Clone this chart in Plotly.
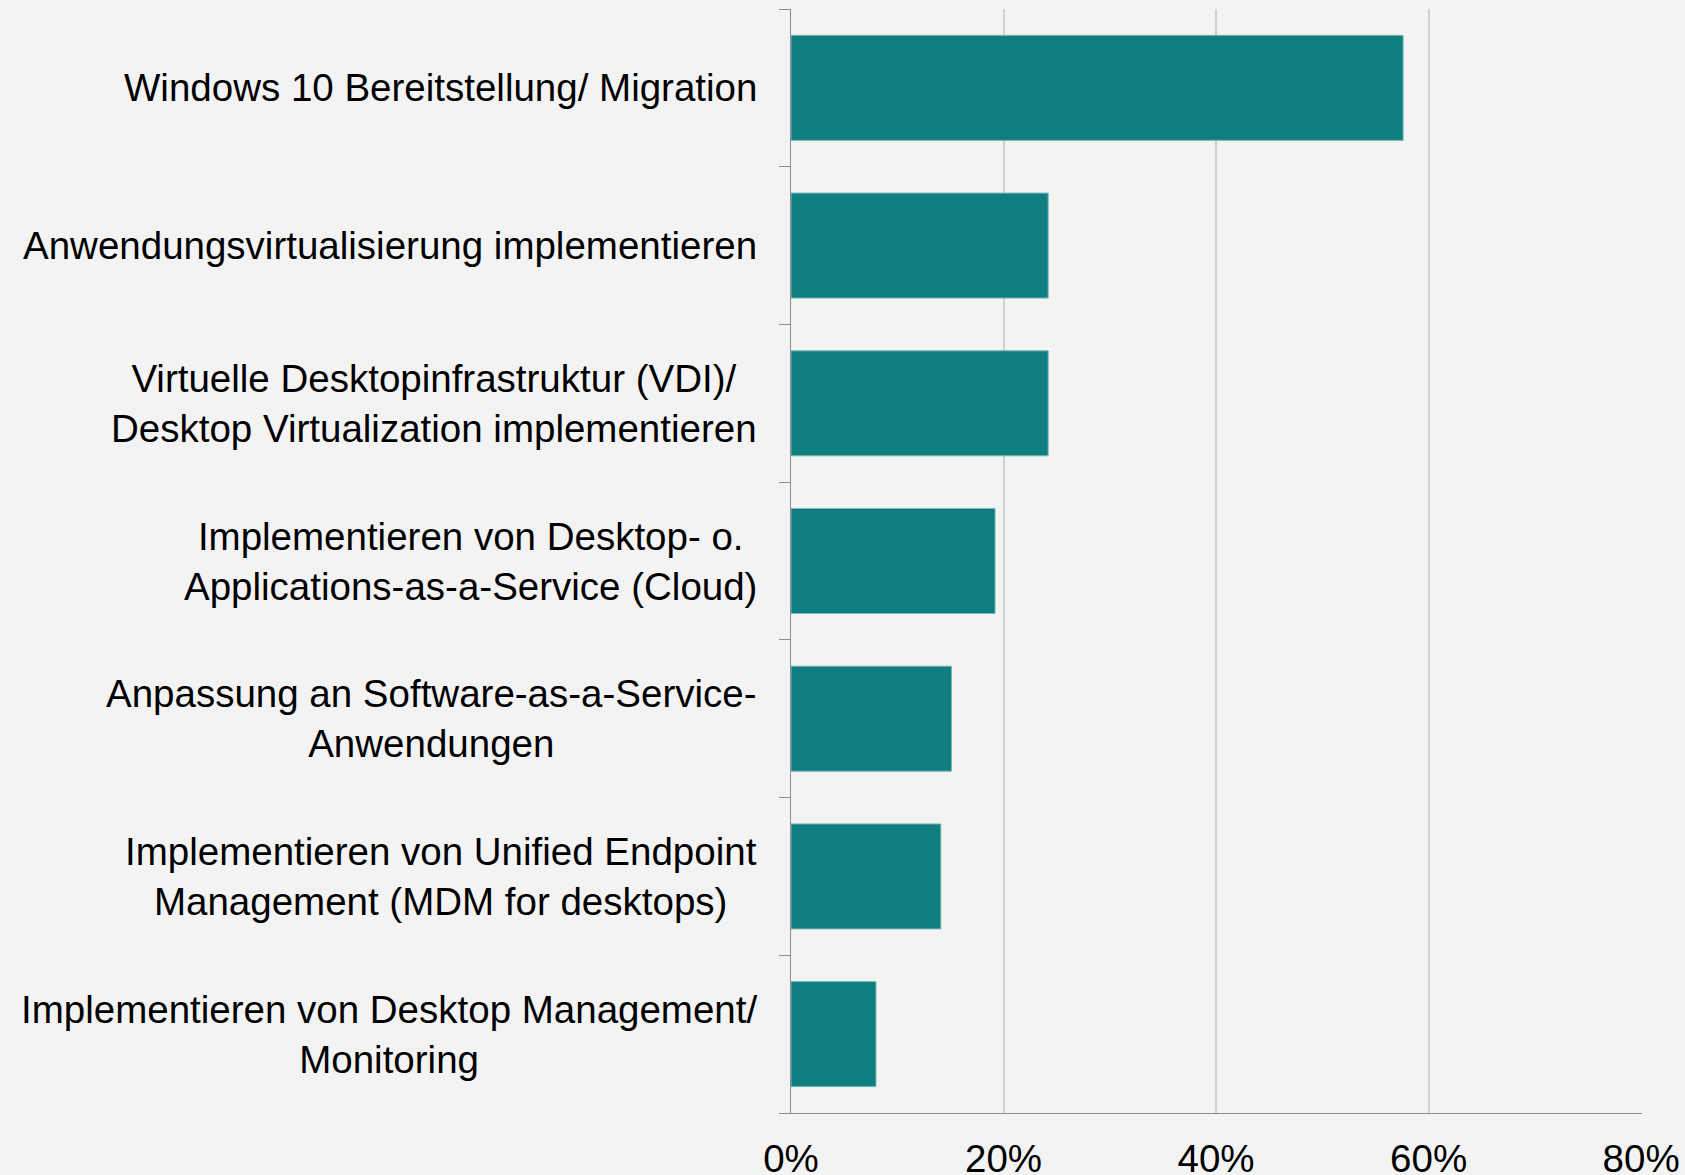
import plotly.graph_objects as go

categories = [
    "Windows 10 Bereitstellung/ Migration",
    "Anwendungsvirtualisierung implementieren",
    "Virtuelle Desktopinfrastruktur (VDI)/<br>Desktop Virtualization implementieren",
    "Implementieren von Desktop- o.<br>Applications-as-a-Service (Cloud)",
    "Anpassung an Software-as-a-Service-<br>Anwendungen",
    "Implementieren von Unified Endpoint<br>Management (MDM for desktops)",
    "Implementieren von Desktop Management/<br>Monitoring",
]
values = [57.6, 24.2, 24.2, 19.2, 15.1, 14.1, 8.0]
x_ticks = [0, 20, 40, 60, 80]
x_tick_labels = ["0%", "20%", "40%", "60%", "80%"]

BG = "#f3f3f3"
BAR = "#0f7e80"
FONT = "Liberation Sans, Arial, sans-serif"
FS = 38.5

fig = go.Figure()
fig.add_trace(go.Bar(
    x=values,
    y=list(range(len(categories))),
    orientation="h",
    marker=dict(color=BAR, line=dict(color="#7fb9b9", width=1)),
    hoverinfo="x",
))

annotations = []
for i, lab in enumerate(categories):
    annotations.append(dict(
        x=0, xref="paper", xanchor="right", xshift=-32,
        y=i, yref="y", yanchor="middle",
        text=lab, showarrow=False, align="center",
        font=dict(family=FONT, size=FS, color="#000000"),
    ))

fig.update_layout(
    width=1685, height=1175,
    paper_bgcolor=BG, plot_bgcolor=BG,
    margin=dict(l=791, r=43, t=9, b=62, autoexpand=False),
    bargap=0.334,
    showlegend=False,
    font=dict(family=FONT, size=FS, color="#000000"),
    annotations=annotations,
    xaxis=dict(
        range=[0, 80.08],
        tickvals=x_ticks, ticktext=x_tick_labels,
        showgrid=True, gridcolor="#d0d0d0", gridwidth=1.5,
        showline=True, linecolor="#8c8c8c", linewidth=1,
        ticks="", ticklabelstandoff=12,
        zeroline=False, automargin=False,
        tickfont=dict(family=FONT, size=FS, color="#000000"),
    ),
    yaxis=dict(
        type="linear",
        range=[len(categories) - 0.5, -0.5],
        tickvals=[i - 0.5 for i in range(len(categories) + 1)],
        ticktext=[""] * (len(categories) + 1),
        ticks="outside", ticklen=11, tickcolor="#8c8c8c", tickwidth=1,
        showline=True, linecolor="#8c8c8c", linewidth=1,
        showgrid=False, zeroline=False, automargin=False,
    ),
)

fig.write_html(
    "out.html",
    config={"displayModeBar": False},
    post_script="document.body.style.margin='0px';document.body.style.background='#f3f3f3';",
)
